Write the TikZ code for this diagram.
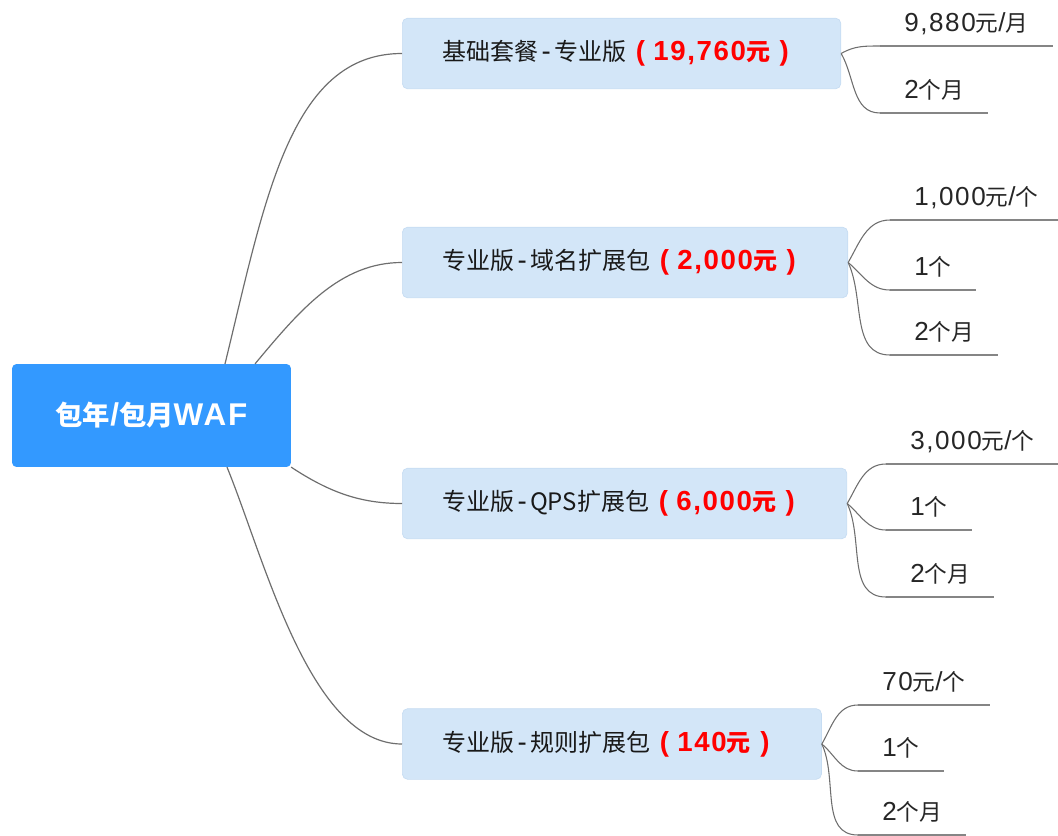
\documentclass[tikz,border=0pt]{standalone}
\usepackage{fontspec}
\setmainfont{Noto Sans CJK SC}
\newfontfamily\latinfont[Scale=1.15,LetterSpace=6]{Liberation Sans}
\usetikzlibrary{calc}
\definecolor{root-blue}{HTML}{3399FF}
\definecolor{branch-blue}{HTML}{D3E6F8}
\definecolor{branch-edge}{HTML}{C6DCF2}
\definecolor{line-gray}{HTML}{6E6E6E}
\definecolor{under-gray}{HTML}{858585}
\definecolor{price-red}{HTML}{FF0000}
\tikzstyle{rootbox}=[fill=root-blue,rounded corners=3pt,minimum width=209pt,minimum height=77pt,text=white,font=\fontsize{20.5}{24}\selectfont\bfseries]
\tikzstyle{branchbox}=[fill=branch-blue,draw=branch-edge,line width=0.5pt,rounded corners=4pt,anchor=west,minimum height=53pt,inner xsep=30pt,text=black!90,font=\fontsize{18}{21}\selectfont]
\tikzstyle{leaf}=[anchor=south west,inner xsep=18pt,inner ysep=11pt,text depth=0pt,text=black!85,font=\fontsize{17}{20}\selectfont,append after command={(\tikzlastnode.south west) edge[under-gray,line width=1.4pt] (\tikzlastnode.south east)}]
\tikzstyle{stem}=[line-gray,line width=0.9pt]
\tikzstyle{twig}=[line-gray,line width=0.8pt]
\newcommand{\lt}[1]{{\latinfont #1}}
\newcommand{\dash}{\lt{\kern0.12em-\kern0.12em}}
\newcommand{\price}[1]{{\color{price-red}\bfseries\kern0.4em\lt{(}\kern0.35em\lt{#1}元\kern0.4em\lt{)}\kern0.5em}}
% leaf: name, parent, out angle, underline start, text
\newcommand{\addleaf}[5]{
	\node[leaf] (#1) at (#4) {#5};
	\draw[twig] (#2.east) to[out=#3,in=180] (#1.south west);
}

\begin{document}
\begin{tikzpicture}[x=0.75pt,y=-0.75pt]
\useasboundingbox (0,0) rectangle (1058,836);
% root
\node[rootbox] (waf) at (151.5,415.5) {包年\lt{/}包月\lt{WAF}};
% branches
\node[branchbox] (basic) at (402,53.5) {基础套餐\dash 专业版\price{19,760}};
\node[branchbox] (domain) at (402,262.5) {专业版\dash 域名扩展包\price{2,000}};
\node[branchbox] (qps) at (402,503.5) {专业版\dash QPS扩展包\price{6,000}};
\node[branchbox] (rule) at (402,744) {专业版\dash 规则扩展包\price{140}};
% stems from root
\draw[stem] ($(waf.north)+(73.5,0)$) .. controls +(40,-164) and +(-112,0) .. (basic.west);
\draw[stem] ($(waf.north)+(103.5,0)$) .. controls +(45,-54) and +(-62,0) .. (domain.west);
\draw[stem] (waf.south east) .. controls +(38,25) and +(-42,0) .. (qps.west);
\draw[stem] ($(waf.south)+(75.5,0)$) .. controls +(38,93) and +(-92,0) .. (rule.west);
% leaves
\addleaf{basicprice}{basic}{30}{880,46}{\lt{9,880}元\lt{/}月}
\addleaf{basicterm}{basic}{-60}{880,113}{\lt{2}个月}
\addleaf{domainprice}{domain}{60}{890,220}{\lt{1,000}元\lt{/}个}
\addleaf{domaincount}{domain}{-40}{890,290}{\lt{1}个}
\addleaf{domainterm}{domain}{-65}{890,355}{\lt{2}个月}
\addleaf{qpsprice}{qps}{60}{886,464}{\lt{3,000}元\lt{/}个}
\addleaf{qpscount}{qps}{-40}{886,530}{\lt{1}个}
\addleaf{qpsterm}{qps}{-65}{886,597}{\lt{2}个月}
\addleaf{ruleprice}{rule}{60}{858,705}{\lt{70}元\lt{/}个}
\addleaf{rulecount}{rule}{-40}{858,771}{\lt{1}个}
\addleaf{ruleterm}{rule}{-65}{858,835}{\lt{2}个月}
\end{tikzpicture}
\end{document}
